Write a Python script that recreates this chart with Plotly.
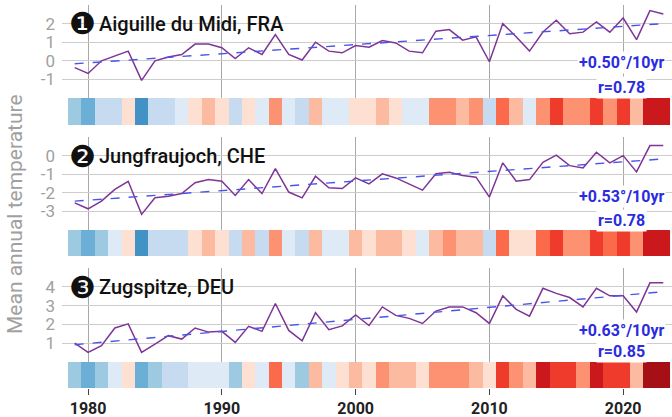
import plotly.graph_objects as go

years = list(range(1979, 2024))

stations = ["Aiguille du Midi, FRA", "Jungfraujoch, CHE", "Zugspitze, DEU"]
badges = ["❶", "❷", "❸"]

aiguille = [-0.37, -0.68, 0.0, 0.25, 0.52, -1.05, 0.0, 0.2, 0.34, 0.9, 0.9, 0.7, 0.12, 0.7, 0.34,
            1.41, 0.34, 0.04, 1.0, 0.52, 0.43,
            0.82, 0.73, 1.09, 0.96, 0.52, 0.43, 1.59, 1.68, 1.11, 1.29, -0.05, 2.0, 1.29, 0.52,
            1.55, 2.18, 1.45, 1.54, 2.09, 1.54, 2.3, 1.14, 2.7, 2.52]
jungfrau = [-2.54, -2.86, -2.45, -1.82, -1.38, -3.16, -2.27, -2.18, -2.04, -1.46, -1.29, -1.38,
            -2.14, -1.29, -2.04, -0.7, -1.96, -2.27, -1.11, -1.73, -1.77,
            -1.2, -1.52, -0.98, -1.2, -1.52, -1.86, -0.98, -0.89, -1.07, -1.16, -2.23, -0.39,
            -1.38, -1.29, -0.36, 0.02, -0.54, -0.66, 0.18, -0.39, 0.0, -0.88, 0.54, 0.54]
zugspitze = [1.0, 0.51, 0.87, 1.81, 2.03, 0.51, 0.95, 1.4, 1.22, 1.81, 1.59, 1.63, 1.04, 1.9,
             1.63, 3.11, 1.68, 1.13, 2.62, 1.72, 1.92,
             2.5, 1.94, 2.93, 2.48, 2.32, 2.05, 2.71, 2.93, 2.93, 2.62, 2.05, 3.52, 2.8, 2.44,
             3.92, 3.65, 3.43, 2.93, 3.92, 3.52, 3.52, 2.66, 4.21, 4.21]

# stripe colour class per year (0 = coldest blue ... 11 = darkest red)
stripes_aiguille = [2, 1, 3, 3, 5, 0, 3, 3, 4, 5, 6, 5, 3, 5, 4, 7, 4, 3, 6, 4, 4,
                    5, 5, 6, 5, 4, 4, 7, 7, 6, 7, 3, 8, 6, 4, 7, 9, 7, 7, 9, 7, 9, 6, 10, 10]
stripes_jungfrau = [2, 1, 2, 4, 5, 0, 3, 3, 3, 5, 6, 5, 3, 6, 3, 7, 4, 3, 6, 4, 4,
                    6, 5, 6, 6, 5, 4, 6, 7, 6, 6, 3, 8, 5, 5, 8, 9, 7, 7, 9, 8, 9, 7, 10, 10]
stripes_zugspitze = [2, 1, 2, 4, 5, 1, 2, 3, 3, 4, 4, 4, 2, 5, 4, 8, 4, 2, 6, 4, 5,
                     6, 5, 7, 6, 6, 5, 7, 7, 7, 6, 5, 9, 7, 6, 10, 9, 9, 7, 10, 9, 9, 6, 11, 11]

trend_years = [1979, 2023]
trend_aiguille = [-0.16, 2.0]
trend_jungfrau = [-2.45, -0.18]
trend_zugspitze = [0.92, 3.74]

trend_labels = ["+0.50°/10yr", "+0.53°/10yr", "+0.63°/10yr"]
r_labels = ["r=0.78", "r=0.78", "r=0.85"]

y_ranges = [[-2, 3], [-4, 1], [0, 5]]
y_ticks = [[-2, -1, 0, 1, 2, 3], [-4, -3, -2, -1, 0, 1], [0, 1, 2, 3, 4, 5]]
y_ticktext = [["", "-1", "0", "1", "2", ""], ["", "-3", "-2", "-1", "0", ""],
              ["", "1", "2", "3", "4", ""]]
x_ticks = [1980, 1990, 2000, 2010, 2020]

stripe_colors = ["#4292c6", "#6baed6", "#9ecae1", "#c6dbef", "#deebf7", "#fee0d2",
                 "#fcbba1", "#fc9272", "#fb6a4a", "#ef3b2c", "#cb181d", "#a50f15"]

series = [aiguille, jungfrau, zugspitze]
trends = [trend_aiguille, trend_jungfrau, trend_zugspitze]
stripes = [stripes_aiguille, stripes_jungfrau, stripes_zugspitze]

# layout geometry (paper fractions)
line_domains = [[0.7572, 1.0], [0.4125, 0.6554], [0.0679, 0.3133]]
stripe_domains = [[0.6867, 0.7572], [0.3446, 0.4125], [0.0, 0.0679]]
title_y = [0.9504, 0.6057, 0.2637]
trend_y = [0.8486, 0.4987, 0.1514]
r_y = [0.7833, 0.4386, 0.094]

n = len(stripe_colors)
cscale = []
for i, c in enumerate(stripe_colors):
    cscale.append([i / n, c])
    cscale.append([(i + 1) / n, c])

FONT = "Roboto"
x_range = [1978.05, 2023.65]

fig = go.Figure()
layout = dict(
    width=672, height=417,
    margin=dict(l=62, r=0, t=5, b=29),
    paper_bgcolor="white", plot_bgcolor="white",
    showlegend=False,
    font=dict(family=FONT),
)
annotations = []

for k in range(3):
    xl = "x" if k == 0 else f"x{2*k+1}"
    yl = "y" if k == 0 else f"y{2*k+1}"
    xs = f"x{2*k+2}"
    ys = f"y{2*k+2}"
    fig.add_trace(go.Scatter(x=years, y=series[k], mode="lines",
                             line=dict(color="#7e3596", width=1.5),
                             xaxis=xl, yaxis=yl, hoverinfo="skip"))
    fig.add_trace(go.Scatter(x=trend_years, y=trends[k], mode="lines",
                             line=dict(color="#4a55e8", width=1.4, dash="dash"),
                             xaxis=xl, yaxis=yl, hoverinfo="skip"))
    fig.add_trace(go.Heatmap(x=years, y=[0], z=[stripes[k]], colorscale=cscale,
                             zmin=-0.5, zmax=n - 0.5, showscale=False,
                             xaxis=xs, yaxis=ys, hoverinfo="skip"))

    lkey = "xaxis" if k == 0 else f"xaxis{2*k+1}"
    ykey = "yaxis" if k == 0 else f"yaxis{2*k+1}"
    layout[lkey] = dict(range=x_range, autorange=False, anchor=yl, tickvals=x_ticks,
                        showticklabels=False,
                        showgrid=True, gridcolor="#a8a8a8", gridwidth=1, zeroline=False,
                        ticks="", showline=False)
    layout[ykey] = dict(domain=line_domains[k], range=y_ranges[k], anchor=xl,
                        tickvals=y_ticks[k], ticktext=y_ticktext[k],
                        showgrid=True, gridcolor="#cdcdcd", gridwidth=1, zeroline=False,
                        ticks="", showline=False, ticklabelstandoff=6,
                        tickfont=dict(family=FONT, size=17, color="#a0a0a0"))
    last = (k == 2)
    layout[f"xaxis{2*k+2}"] = dict(range=x_range, autorange=False, anchor=ys,
                                   tickvals=x_ticks, showticklabels=last,
                                   ticks="outside" if last else "", ticklen=6,
                                   tickcolor="#444", tickwidth=1,
                                   showgrid=False, zeroline=False, showline=False,
                                   tickfont=dict(family=FONT, size=16, color="#222",
                                                 weight="bold"))
    layout[f"yaxis{2*k+2}"] = dict(domain=stripe_domains[k], range=[-0.5, 0.5], anchor=xs,
                                   showticklabels=False, showgrid=False, zeroline=False,
                                   ticks="", showline=False)

    annotations.append(dict(xref="paper", yref="paper", x=(82 - 62) / 610, y=title_y[k],
                            text=badges[k], showarrow=False, xanchor="center",
                            yanchor="middle",
                            font=dict(family="DejaVu Sans", size=30, color="#111")))
    annotations.append(dict(xref="paper", yref="paper", x=(97 - 62) / 610, y=title_y[k],
                            text=stations[k], showarrow=False, xanchor="left",
                            yanchor="middle",
                            font=dict(family=FONT, size=20, color="#111", weight=500)))
    annotations.append(dict(xref="paper", yref="paper", x=(621 - 62) / 610, y=trend_y[k],
                            text=trend_labels[k], showarrow=False, xanchor="center",
                            yanchor="middle", bgcolor="white", borderpad=1,
                            font=dict(family=FONT, size=16, color="#2b2be0", weight="bold")))
    annotations.append(dict(xref="paper", yref="paper", x=(621 - 62) / 610, y=r_y[k],
                            text=r_labels[k], showarrow=False, xanchor="center",
                            yanchor="middle", bgcolor="white", borderpad=1,
                            font=dict(family=FONT, size=16, color="#2b2be0", weight="bold")))

annotations.append(dict(xref="paper", yref="paper", x=(15 - 62) / 610, y=(388 - 214) / 383,
                        text="Mean annual temperature", textangle=-90, showarrow=False,
                        xanchor="center", yanchor="middle",
                        font=dict(family=FONT, size=21, color="#a0a0a0")))

layout["annotations"] = annotations
fig.update_layout(**layout)
fig.write_html("out.html", config={"displayModeBar": False},
               post_script="document.body.style.margin='0';document.body.style.overflow='hidden';")
